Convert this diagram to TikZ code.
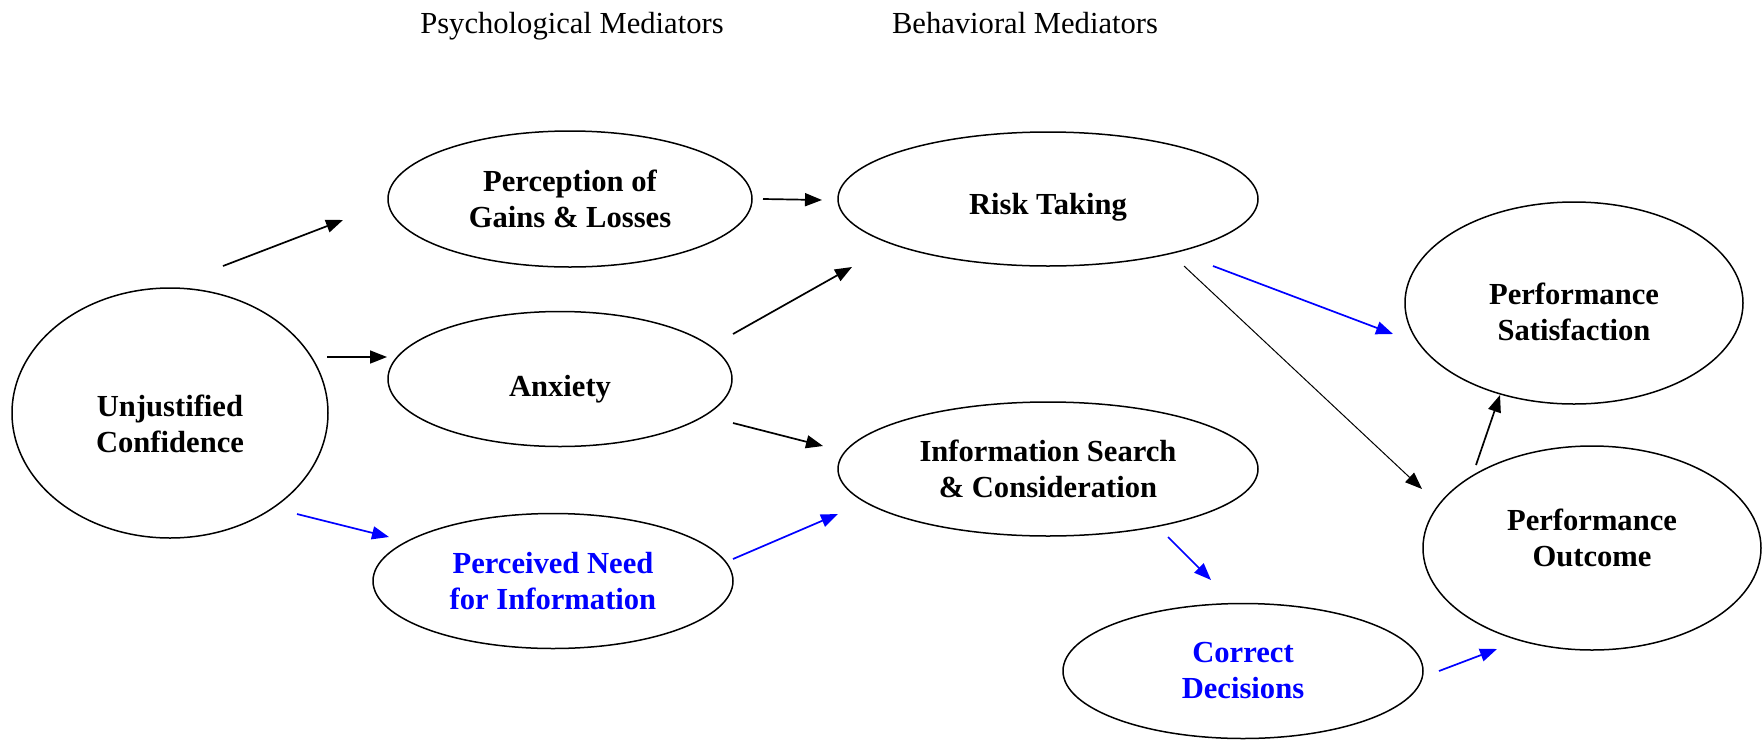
\documentclass[tikz,border=0pt]{standalone}
\usepackage{fontspec}
\setmainfont{Liberation Serif}
\usetikzlibrary{shapes.geometric,arrows.meta}
\newcommand{\padtop}[2]{\raisebox{0pt}[\dimexpr\height+#1\relax]{#2}}
\newcommand{\padbot}[2]{\raisebox{0pt}[\height][\dimexpr\depth+#1\relax]{#2}}
\tikzset{
  oval/.style={draw,line width=0.75pt,ellipse,inner sep=0pt,align=center,
    font=\fontsize{15.3}{18}\selectfont\bfseries},
  heading/.style={anchor=base,font=\fontsize{15.3}{18}\selectfont},
  arr/.style={line width=0.85pt,-{Triangle[length=8.5pt,width=6.5pt]}},
  thinarr/.style={line width=0.5pt,-{Triangle[length=8.5pt,width=6.5pt]}},
  bluearr/.style={arr,blue}
}
\begin{document}
\begin{tikzpicture}[x=0.5pt,y=-0.5pt]
\useasboundingbox (0,0) rectangle (1763,740);
\node[heading] (psy) at (572,33) {Psychological Mediators};
\node[heading] (beh) at (1025,33) {Behavioral Mediators};

\node[oval,minimum width=158pt,minimum height=125pt] (unj) at (170,413) {\padtop{11pt}{Unjustified}\\Confidence};
\node[oval,minimum width=182pt,minimum height=68pt] (gain) at (570,199) {Perception of\\Gains \& Losses};
\node[oval,minimum width=172pt,minimum height=67.5pt] (anx) at (560,379) {\padtop{10pt}{Anxiety}};
\node[oval,minimum width=180pt,minimum height=67.5pt,text=blue] (need) at (553,581) {Perceived Need\\for Information};
\node[oval,minimum width=210pt,minimum height=67pt] (risk) at (1048,199) {\padtop{8pt}{Risk Taking}};
\node[oval,minimum width=210pt,minimum height=67pt] (info) at (1048,469) {Information Search\\\& Consideration};
\node[oval,minimum width=180pt,minimum height=67.5pt,text=blue] (corr) at (1243,671) {Correct\\Decisions};
\node[oval,minimum width=169pt,minimum height=101pt] (sat) at (1574,303) {\padtop{9pt}{Performance}\\Satisfaction};
\node[oval,minimum width=169pt,minimum height=102pt] (out) at (1592,548) {Performance\\\padbot{10pt}{Outcome}};

\coordinate (unj-gain-a) at (223,266);  \coordinate (unj-gain-b) at (343,220);
\coordinate (unj-anx-a) at (327,357);   \coordinate (unj-anx-b) at (387,357);
\coordinate (unj-need-a) at (297,514);  \coordinate (unj-need-b) at (389,537);
\coordinate (gain-risk-a) at (763,199); \coordinate (gain-risk-b) at (822,200);
\coordinate (anx-risk-a) at (733,334);  \coordinate (anx-risk-b) at (852,267);
\coordinate (anx-info-a) at (733,423);  \coordinate (anx-info-b) at (823,446);
\coordinate (need-info-a) at (733,559); \coordinate (need-info-b) at (838,514);
\coordinate (risk-out-a) at (1184,266); \coordinate (risk-out-b) at (1422,489);
\coordinate (risk-sat-a) at (1213,266); \coordinate (risk-sat-b) at (1393,334);
\coordinate (info-corr-a) at (1168,537);\coordinate (info-corr-b) at (1211,580);
\coordinate (corr-out-a) at (1439,671); \coordinate (corr-out-b) at (1497,649);
\coordinate (out-sat-a) at (1476,465);  \coordinate (out-sat-b) at (1500,395);

\draw[arr] (unj-gain-a) -- (unj-gain-b);
\draw[arr] (unj-anx-a) -- (unj-anx-b);
\draw[bluearr] (unj-need-a) -- (unj-need-b);
\draw[arr] (gain-risk-a) -- (gain-risk-b);
\draw[arr] (anx-risk-a) -- (anx-risk-b);
\draw[arr] (anx-info-a) -- (anx-info-b);
\draw[bluearr] (need-info-a) -- (need-info-b);
\draw[thinarr] (risk-out-a) -- (risk-out-b);
\draw[bluearr] (risk-sat-a) -- (risk-sat-b);
\draw[bluearr] (info-corr-a) -- (info-corr-b);
\draw[bluearr] (corr-out-a) -- (corr-out-b);
\draw[arr] (out-sat-a) -- (out-sat-b);
\end{tikzpicture}
\end{document}
